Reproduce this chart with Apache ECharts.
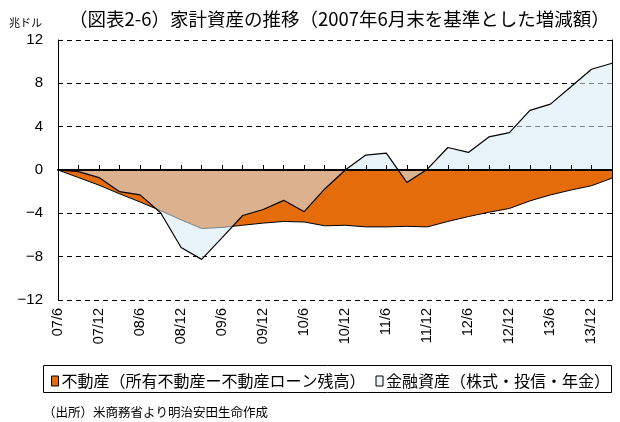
<!DOCTYPE html>
<html>
<head>
<meta charset="utf-8">
<script src="https://cdn.jsdelivr.net/npm/echarts@6/dist/echarts.min.js"></script>
<style>
  html, body { margin: 0; padding: 0; background: #fff; }
  #chart { width: 620px; height: 422px; }
</style>
</head>
<body>
<div id="chart"></div>
<script>
// 四半期末（2007年6月末〜2014年3月末）
const quarters = [
  '07/6', '07/9', '07/12', '08/3', '08/6', '08/9', '08/12', '09/3',
  '09/6', '09/9', '09/12', '10/3', '10/6', '10/9', '10/12', '11/3',
  '11/6', '11/9', '11/12', '12/3', '12/6', '12/9', '12/12', '13/3',
  '13/6', '13/9', '13/12', '14/3'
]
// 不動産（所有不動産－不動産ローン残高）兆ドル
const realEstate = [
  0, -0.7, -1.4, -2.2, -2.95, -3.75, -4.6, -5.4,
  -5.3, -5.1, -4.9, -4.75, -4.8, -5.15, -5.1, -5.25,
  -5.25, -5.2, -5.25, -4.75, -4.3, -3.9, -3.55, -2.85,
  -2.3, -1.85, -1.45, -0.75
]
// 金融資産（株式・投信・年金）兆ドル
const financial = [
  0, -0.15, -0.7, -2.0, -2.3, -3.95, -7.15, -8.25,
  -6.25, -4.2, -3.65, -2.8, -3.85, -1.75, 0.0, 1.38,
  1.56, -1.15, 0.08, 2.08, 1.62, 3.05, 3.45, 5.5,
  6.08, 7.68, 9.3, 9.85
]
const yTicks = { min: -12, max: 12, step: 4 }

const jp = "'Noto Sans CJK JP', sans-serif"
const orange = '#e46c0a'
const blue = 'rgba(214,234,246,0.56)'

const chart = echarts.init(document.getElementById('chart'))

const option = {
  backgroundColor: '#fff',
  animation: false,
  title: [
    {
      text: '兆ドル',
      left: 4, top: 12,
      textStyle: { fontFamily: jp, fontSize: 11, fontWeight: 'normal', color: '#000' }
    },
    {
      text: '（図表2-6）家計資産の推移（2007年6月末を基準とした増減額）',
      left: 64, top: 5,
      textStyle: { fontFamily: jp, fontSize: 18.5, fontWeight: 'normal', color: '#000' }
    },
    {
      text: '（出所）米商務省より明治安田生命作成',
      left: 38, top: 401,
      textStyle: { fontFamily: jp, fontSize: 12.5, fontWeight: 'normal', color: '#000' }
    }
  ],
  legend: {
    left: 46, top: 368,
    itemWidth: 7, itemHeight: 10, itemGap: 10,
    icon: 'rect',
    textStyle: { fontFamily: jp, fontSize: 16, color: '#000', padding: [0, 0, 0, -2] },
    data: [
      { name: '不動産（所有不動産ー不動産ローン残高）', itemStyle: { color: orange, borderColor: '#000', borderWidth: 1 } },
      { name: '金融資産（株式・投信・年金）', itemStyle: { color: '#eaf4fa', borderColor: '#000', borderWidth: 1 } }
    ]
  },
  graphic: [
    {
      type: 'rect',
      shape: { x: 43.5, y: 365.5, width: 568, height: 27 },
      style: { fill: 'none', stroke: '#000', lineWidth: 1 }
    }
  ],
  grid: { left: 58, right: 8, top: 40, bottom: 122 },
  xAxis: [
    {
      type: 'category',
      data: quarters,
      boundaryGap: false,
      z: 5,
      axisLine: { onZero: true, lineStyle: { color: '#000', width: 2 } },
      axisTick: { show: true, inside: true, length: 5, interval: 0, lineStyle: { color: '#000' } },
      axisLabel: { show: false },
      splitLine: { show: false }
    },
    {
      type: 'category',
      data: quarters,
      boundaryGap: false,
      position: 'bottom',
      axisLine: { show: false },
      axisTick: { show: false },
      axisLabel: {
        interval: 1, rotate: 90, margin: 8,
        fontFamily: 'Liberation Sans', fontSize: 14.5, color: '#000'
      },
      splitLine: { show: false }
    }
  ],
  yAxis: [
    {
      type: 'value',
      min: yTicks.min, max: yTicks.max, interval: yTicks.step,
      axisLine: { show: true, lineStyle: { color: '#000', width: 1 } },
      axisTick: { show: false },
      axisLabel: {
        margin: 15, fontFamily: 'Liberation Sans', fontSize: 15, color: '#000',
        formatter: v => (v < 0 ? '−' + Math.abs(v) : String(v))
      },
      splitLine: { show: true, lineStyle: { color: '#000', type: [5, 4], width: 1 } }
    },
    {
      type: 'value',
      position: 'right',
      min: yTicks.min, max: yTicks.max, interval: yTicks.step,
      axisLine: { show: true, lineStyle: { color: '#000', width: 1 } },
      axisTick: { show: false },
      axisLabel: { show: false },
      splitLine: { show: false }
    }
  ],
  series: [
    {
      name: '不動産（所有不動産ー不動産ローン残高）',
      type: 'line',
      data: realEstate,
      symbol: 'none',
      z: 2,
      itemStyle: { color: orange },
      lineStyle: { color: '#000', width: 1 },
      areaStyle: { color: orange, opacity: 1 }
    },
    {
      name: '金融資産（株式・投信・年金）',
      type: 'line',
      data: financial,
      symbol: 'none',
      z: 3,
      itemStyle: { color: '#eaf4fa' },
      lineStyle: { color: '#000', width: 1.2 },
      areaStyle: { color: blue, opacity: 1 }
    }
  ]
}

chart.setOption(option)
</script>
</body>
</html>
